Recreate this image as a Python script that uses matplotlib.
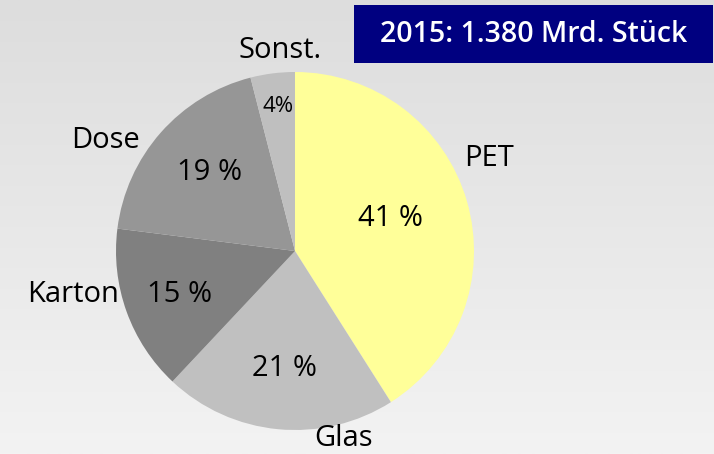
import numpy as np
import matplotlib
matplotlib.use("Agg")
import matplotlib.pyplot as plt
from matplotlib.patches import Rectangle

categories = ["PET", "Glas", "Karton", "Dose", "Sonst."]
shares = [41, 21, 15, 19, 4]
pct_labels = ["41 %", "21 %", "15 %", "19 %", "4%"]
colors = ["#FFFF99", "#C0C0C0", "#808080", "#969696", "#BFBFBF"]
title = "2015: 1.380 Mrd. Stück"

W, H = 714, 454
fig = plt.figure(figsize=(W / 100, H / 100), dpi=100)

# background gradient
bg = fig.add_axes([0, 0, 1, 1], zorder=0)
grad = np.linspace(0, 1, 256).reshape(-1, 1)
top = np.array([0xDD, 0xDD, 0xDD]) / 255
bot = np.array([0xF3, 0xF3, 0xF3]) / 255
img = top + (bot - top) * grad[..., None]
bg.imshow(img, aspect="auto", extent=[0, 1, 0, 1], origin="upper")
bg.axis("off")

ax = fig.add_axes([0, 0, 1, 1], zorder=1)
ax.patch.set_alpha(0)
cx, cy, r = 295, H - 251, 179
ax.pie(shares, colors=colors, startangle=90, counterclock=False,
       center=(cx, cy), radius=r, frame=True,
       wedgeprops=dict(linewidth=0))
ax.set_xlim(0, W)
ax.set_ylim(0, H)
ax.set_aspect("auto")
ax.axis("off")

font = "Open Sans"
fw = 500
label_pos = [(489, 158), (343, 439), (73, 295), (106, 141), (280, 50)]
pct_pos = [(391, 218), (285, 369), (180, 294), (210, 173), (278, 106)]
for name, (x, y) in zip(categories, label_pos):
    ax.text(x, H - y, name, ha="center", va="center", fontsize=21,
            family=font, fontweight=fw, color="black")
for i, (t, (x, y)) in enumerate(zip(pct_labels, pct_pos)):
    ax.text(x, H - y, t, ha="center", va="center",
            fontsize=16 if i == 4 else 21, family=font, fontweight=fw,
            color="black")

ax.add_patch(Rectangle((354, H - 63), 359, 58, facecolor="#000080",
                       edgecolor="none", zorder=3))
ax.text(534, H - 35, title, ha="center", va="center", fontsize=20.5,
        family=font, fontweight=600, color="white", zorder=4)

fig.savefig("out.png", dpi=100)
